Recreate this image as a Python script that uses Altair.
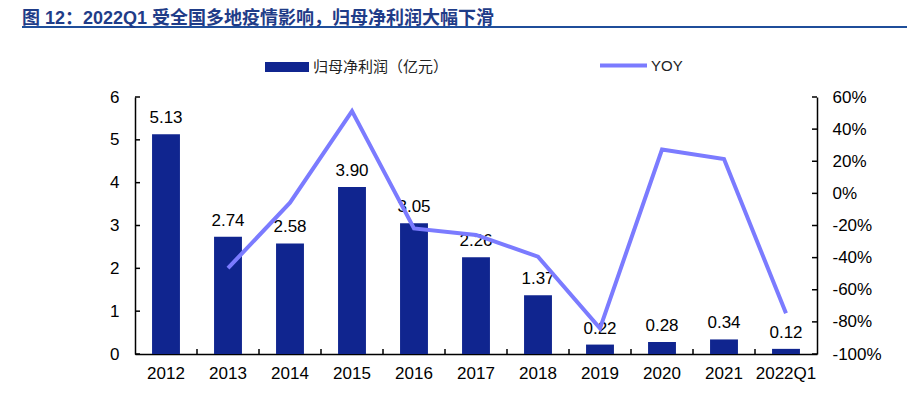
import altair as alt
import pandas as pd

categories = ['2012', '2013', '2014', '2015', '2016', '2017', '2018', '2019', '2020', '2021', '2022Q1']
profit = [5.13, 2.74, 2.58, 3.90, 3.05, 2.26, 1.37, 0.22, 0.28, 0.34, 0.12]
yoy = [None, -46.6, -5.8, 51.2, -21.8, -25.9, -39.4, -84.0, 27.3, 21.4, -74.7]
left_ticks = [0, 1, 2, 3, 4, 5, 6]
right_ticks = [-100, -80, -60, -40, -20, 0, 20, 40, 60]
bar_name = '归母净利润（亿元）'
line_name = 'YOY'
title_text = '图 12：2022Q1 受全国多地疫情影响，归母净利润大幅下滑'

W, H = 682, 257
FONT = 'Liberation Sans, Noto Sans CJK SC'
BAR_COLOR = '#10258F'
LINE_COLOR = '#7B7BFF'

df = pd.DataFrame({'year': categories, 'profit': profit, 'series': [bar_name] * len(categories)})
dfl = pd.DataFrame({'year': categories[1:], 'yoy': yoy[1:], 'series': [line_name] * (len(categories) - 1)})
df_lt = pd.DataFrame({'profit': left_ticks})
df_rt = pd.DataFrame({'yoy': right_ticks})
df_xt = pd.DataFrame({'year': categories[:-1]})

xscale = alt.Scale(domain=categories, paddingInner=0.55, paddingOuter=0.275)
xenc = alt.X('year:N', scale=xscale, sort=categories,
             axis=alt.Axis(title=None, labelAngle=0, ticks=False, labelPadding=11,
                           labelFontSize=17, labelFont=FONT, labelColor='#000', labelOverlap=False,
                           domainColor='#000', domainWidth=1.5))

yl_scale = alt.Scale(domain=[0, 6], nice=False)
yr_scale = alt.Scale(domain=[-100, 60], nice=False)

yl_axis = alt.Axis(title=None, orient='left', values=left_ticks, ticks=False, grid=False,
                   labelPadding=16, labelFontSize=17, labelFont=FONT, labelColor='#000',
                   labelOverlap=False, domainColor='#000', domainWidth=1.5)
yr_axis = alt.Axis(title=None, orient='right', values=right_ticks, ticks=False, grid=False,
                   labelExpr="datum.value + '%'", labelPadding=15, labelFontSize=17,
                   labelOverlap=False, labelFont=FONT, labelColor='#000',
                   domainColor='#000', domainWidth=1.5)

yl = alt.Y('profit:Q', scale=yl_scale, axis=yl_axis)
yr = alt.Y('yoy:Q', scale=yr_scale, axis=yr_axis)

bars = alt.Chart(df).mark_bar().encode(
    x=xenc,
    y=yl,
    fill=alt.Fill('series:N', scale=alt.Scale(domain=[bar_name], range=[BAR_COLOR]),
                  legend=alt.Legend(title=None, orient='none', legendX=130, legendY=-52,
                                    symbolType='M-1,-0.23L1,-0.23L1,0.23L-1,0.23Z',
                                    symbolSize=1936, symbolStrokeWidth=0,
                                    labelFontSize=15, labelFont=FONT, labelColor='#222',
                                    labelOffset=4, padding=0)),
)

labels = alt.Chart(df).mark_text(dy=-11, baseline='alphabetic', fontSize=17, font=FONT, color='#000').encode(
    x=xenc,
    y=yl,
    text=alt.Text('profit:Q', format='.2f'),
)

lticks = alt.Chart(df_lt).mark_rule(color='#000', strokeWidth=1.5).encode(
    y=yl, x=alt.value(0), x2=alt.value(5))

left = alt.layer(bars, labels, lticks)

line = alt.Chart(dfl).mark_line(strokeWidth=4).encode(
    x=xenc,
    y=yr,
    stroke=alt.Stroke('series:N', scale=alt.Scale(domain=[line_name], range=[LINE_COLOR]),
                      legend=alt.Legend(title=None, orient='none', legendX=463, legendY=-57,
                                        symbolType='stroke', symbolSize=2209, symbolStrokeWidth=4,
                                        labelFontSize=15, labelFont=FONT, labelColor='#222',
                                        labelOffset=2, padding=0)),
)

rticks = alt.Chart(df_rt).mark_rule(color='#000', strokeWidth=1.5).encode(
    y=yr, x=alt.value(W - 5), x2=alt.value(W))

right = alt.layer(line, rticks)

xticks = alt.Chart(df_xt).mark_rule(color='#000', strokeWidth=1.5, xOffset=W / 22).encode(
    x=xenc, y=alt.value(H - 5), y2=alt.value(H))

underline = alt.Chart(pd.DataFrame({'a': [0]})).mark_rule(color='#1F4E9A', strokeWidth=2).encode(
    x=alt.value(-113), x2=alt.value(784), y=alt.value(-70))

chart = alt.layer(left, right, xticks, underline).resolve_scale(
    y='independent', fill='independent', stroke='independent'
).properties(
    width=W, height=H,
    padding={'left': 127, 'top': 89, 'right': 90, 'bottom': 32},
    autosize=alt.AutoSizeParams(type='none'),
    title=alt.TitleParams(text=title_text, anchor='start', frame='group', dx=-113, offset=3, dy=5,
                          fontSize=18, font=FONT, fontWeight='bold', color='#1F3C88'),
).configure_view(stroke=None)

chart.save('out.html', embed_options={'renderer': 'svg', 'actions': False})
